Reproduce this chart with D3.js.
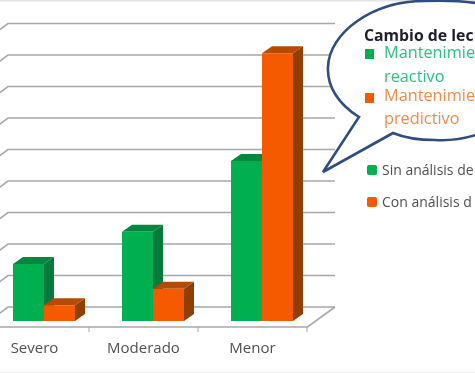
<!DOCTYPE html>
<html><head><meta charset="utf-8">
<script src="https://d3js.org/d3.v7.min.js"></script>
<style>html,body{margin:0;padding:0;background:#fff;overflow:hidden}svg{display:block;filter:blur(.7px)}</style>
</head><body><div id="c"></div>
<script>
const categories=["Severo","Moderado","Menor"];
const seriesNames=["Sin análisis de","Con análisis d"];
const sinAnalisis=[1.81,2.83,5.08];
const conAnalisis=[0.5,1.02,8.5];
const gridTicks=[0,1,2,3,4,5,6,7,8,9];
const colors=["#00b050","#f55a00"];
const sideColors=["#047a3d","#8f4000"];
const topColors=["#06863f","#b54a00"];
const W=475,H=373;
const svg=d3.select("#c").append("svg").attr("width",W).attr("height",H);
svg.append("rect").attr("width",W).attr("height",1.5).attr("fill","#e4e4e4");
svg.append("rect").attr("y",H-1).attr("width",W).attr("height",1).attr("fill","#ececec");
const y=d3.scaleLinear().domain([0,9]).range([321,37.5]);
const x0=d3.scaleBand().domain(categories).range([-20,307]);
const x1=d3.scaleBand().domain([0,1]).range([33,95]);
const wallDx=27,wallDy=-20;
const depthX=10,depthY=-7;
const gY=v=>y(v)-14;
const g=svg.append("g").attr("fill","none");
g.selectAll("path.grid").data(gridTicks).join("path").attr("class","grid")
 .attr("d",v=>`M${8-wallDx} ${gY(v)-wallDy}L8 ${gY(v)}L335 ${gY(v)}`)
 .attr("stroke","#a8a8a8").attr("stroke-width",1.6);
g.append("path").attr("d",`M${-20} 327L307.5 327L335 ${gY(0)}`).attr("stroke","#a8a8a8").attr("stroke-width",1.6);
g.selectAll("path.tick").data(categories.map(c=>x0(c)+x0.bandwidth())).join("path").attr("class","tick")
 .attr("d",d=>`M${d} 327V332`).attr("stroke","#a8a8a8").attr("stroke-width",1);
const rows=[];
categories.forEach((c,i)=>{rows.push({c,s:0,v:sinAnalisis[i]});rows.push({c,s:1,v:conAnalisis[i]});});
const bars=svg.selectAll("g.bar").data(rows).join("g").attr("class","bar");
bars.each(function(d){
 const b=d3.select(this),l=x0(d.c)+x1(d.s),w=x1.bandwidth(),t=y(d.v),bot=y(0);
 b.append("path").attr("d",`M${l+w} ${t}L${l+w+depthX} ${t+depthY}L${l+w+depthX} ${bot+depthY}L${l+w} ${bot}Z`).attr("fill",sideColors[d.s]);
 b.append("path").attr("d",`M${l} ${t}L${l+depthX} ${t+depthY}L${l+w+depthX} ${t+depthY}L${l+w} ${t}Z`).attr("fill",topColors[d.s]);
 b.append("rect").attr("x",l).attr("y",t).attr("width",w).attr("height",bot-t).attr("fill",colors[d.s]);
});
const F="'Open Sans', sans-serif";
svg.selectAll("text.cat").data(categories).join("text").attr("class","cat")
 .attr("x",c=>x0(c)+x0.bandwidth()/2).attr("y",353).attr("text-anchor","middle")
 .attr("font-family",F).attr("font-size",15).attr("fill","#505050").text(c=>c);
svg.append("path").attr("fill","#fff").attr("stroke","#2f4d7e").attr("stroke-width",2.6)
 .attr("d","M359 117C338 104 327 86 328 67C329 33 372 1 425 1C450 0 465 1 482 4L482 133C465 139 450 141 435 140C420 140 405 138 393 133L323 172Z");
const txt=(x,y,s,fill,size,w)=>svg.append("text").attr("x",x).attr("y",y).attr("font-family",F).attr("font-size",size).attr("fill",fill).attr("font-weight",w||400).text(s);
txt(364,41,"Cambio de lec","#1f1f2b",15.8,700);
svg.append("rect").attr("x",365).attr("y",49).attr("width",9).attr("height",10).attr("fill",colors[0]);
txt(384,58,"Mantenimie","#2cc282",16.3);
txt(384,82,"reactivo","#2cc282",16.3);
svg.append("rect").attr("x",365).attr("y",93).attr("width",9).attr("height",10).attr("fill",colors[1]);
txt(384,101,"Mantenimie","#f28c4c",16.3);
txt(384,124,"predictivo","#f28c4c",16.3);
[0,1].forEach(i=>{
 svg.append("rect").attr("x",367).attr("y",165+i*32).attr("width",10).attr("height",10).attr("rx",2).attr("fill",colors[i]);
 txt(382,175+i*32,seriesNames[i],"#505050",14);
});
</script></body></html>
